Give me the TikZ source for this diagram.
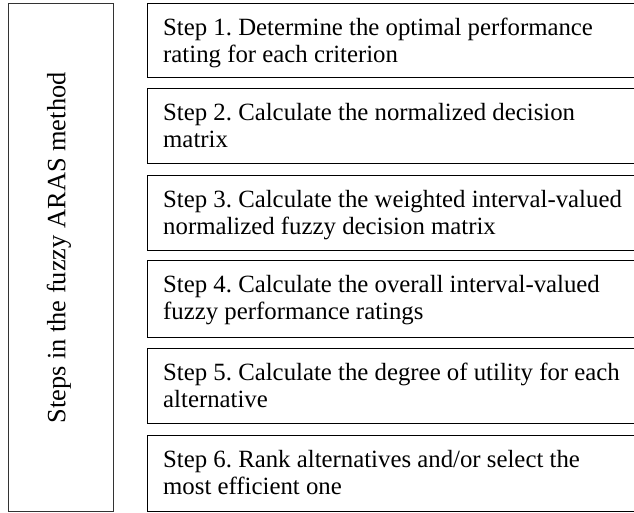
\documentclass[tikz,border=0pt]{standalone}
\usepackage{fontspec}
\setmainfont{Liberation Serif}
\frenchspacing
\begin{document}
\begin{tikzpicture}[x=1pt,y=-1pt,
  frame/.style={draw=black, line width=1.2pt, anchor=north west, inner sep=0pt, minimum width=500pt},
  sidebox/.style={draw=black!80, line width=0.9pt, anchor=north west, inner sep=0pt},
  steptext/.style={anchor=north west, inner sep=0pt, align=left,
    font=\fontsize{24.8}{27}\selectfont\frenchspacing, execute at begin node=\strut},
  sidetext/.style={rotate=90, inner sep=0pt, font=\fontsize{26.4}{29}\selectfont}]
  \useasboundingbox (0,0) rectangle (634,512);
  \clip (0,0) rectangle (634,512);

  % left column with the vertical title
  \node[sidebox, minimum width=105pt, minimum height=508pt] (side) at (8,3) {};
  \node[sidetext] (title) at (59,248) {Steps in the fuzzy ARAS method};

  % the six step boxes (right edges run past the page)
  \node[frame, minimum height=74pt] (b1) at (147,3) {};
  \node[frame, minimum height=75pt] (b2) at (147,88) {};
  \node[frame, minimum height=75pt] (b3) at (147,175) {};
  \node[frame, minimum height=77pt] (b4) at (147,260) {};
  \node[frame, minimum height=75pt] (b5) at (147,348) {};
  \node[frame, minimum height=76pt] (b6) at (147,435) {};

  \node[steptext] (t1) at ([xshift=16pt,yshift=-15pt]b1.north west) {Step 1. Determine the optimal performance\\rating for each criterion};
  \node[steptext] (t2) at ([xshift=16pt,yshift=-15pt]b2.north west) {Step 2. Calculate the normalized decision\\matrix};
  \node[steptext] (t3) at ([xshift=16pt,yshift=-15pt]b3.north west) {Step 3. Calculate the weighted interval-valued\\normalized fuzzy decision matrix};
  \node[steptext] (t4) at ([xshift=16pt,yshift=-15pt]b4.north west) {Step 4. Calculate the overall interval-valued\\fuzzy performance ratings};
  \node[steptext] (t5) at ([xshift=16pt,yshift=-15pt]b5.north west) {Step 5. Calculate the degree of utility for each\\alternative};
  \node[steptext] (t6) at ([xshift=16pt,yshift=-15pt]b6.north west) {Step 6. Rank alternatives and/or select the\\most efficient one};
\end{tikzpicture}
\end{document}
